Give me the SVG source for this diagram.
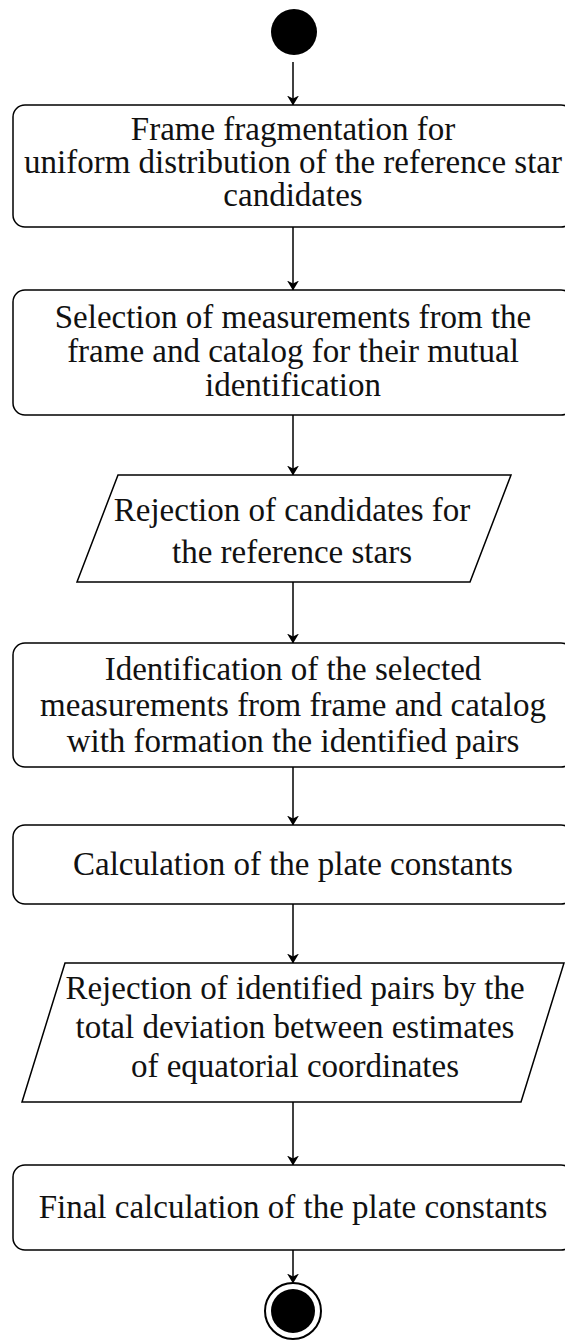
<svg xmlns="http://www.w3.org/2000/svg" width="565" height="1342" viewBox="0 0 565 1342">
<style>
.box{fill:#fff;stroke:#000;stroke-width:1.5}
.t{font-family:"Liberation Serif","Times New Roman",serif;font-size:33px;fill:#111;text-anchor:middle}
.c{stroke:#000;stroke-width:1.5;fill:none;marker-end:url(#ah)}
</style>
<defs>
<marker id="ah" viewBox="0 0 10 12" refX="9.5" refY="6" markerWidth="10" markerHeight="12" markerUnits="userSpaceOnUse" orient="auto">
<path d="M0,0 L10,6 L0,12 L3,6 z" fill="#000"/>
</marker>
</defs>
<rect width="565" height="1342" fill="#fff"/>
<g id="connectors">
<line class="c" x1="293" y1="62" x2="293" y2="105"/>
<line class="c" x1="293" y1="227" x2="293" y2="290"/>
<line class="c" x1="293" y1="415" x2="293" y2="475"/>
<line class="c" x1="293" y1="582" x2="293" y2="643"/>
<line class="c" x1="293" y1="767" x2="293" y2="825"/>
<line class="c" x1="293" y1="904" x2="293" y2="963"/>
<line class="c" x1="293" y1="1102" x2="293" y2="1165"/>
<line class="c" x1="293" y1="1250" x2="293" y2="1283"/>
</g>
<g id="start"><circle cx="294" cy="32" r="23" fill="#000"/></g>
<g id="n1">
<rect class="box" x="13" y="105" width="560" height="122" rx="12"/>
<text class="t" x="293" y="140">Frame fragmentation for</text>
<text class="t" x="293" y="173">uniform distribution of the reference star</text>
<text class="t" x="293" y="206">candidates</text>
</g>
<g id="n2">
<rect class="box" x="13" y="290" width="560" height="125" rx="12"/>
<text class="t" x="293" y="328">Selection of measurements from the</text>
<text class="t" x="293" y="362">frame and catalog for their mutual</text>
<text class="t" x="293" y="396">identification</text>
</g>
<g id="n3">
<polygon class="box" points="118,475 511,475 470,582 77,582"/>
<text class="t" x="292" y="521">Rejection of candidates for</text>
<text class="t" x="292" y="563">the reference stars</text>
</g>
<g id="n4">
<rect class="box" x="13" y="643" width="560" height="124" rx="12"/>
<text class="t" x="293" y="680">Identification of the selected</text>
<text class="t" x="293" y="716">measurements from frame and catalog</text>
<text class="t" x="293" y="752">with formation the identified pairs</text>
</g>
<g id="n5">
<rect class="box" x="13" y="825" width="560" height="79" rx="12"/>
<text class="t" x="293" y="875">Calculation of the plate constants</text>
</g>
<g id="n6">
<polygon class="box" points="65,963 564,963 521,1102 22,1102"/>
<text class="t" x="295" y="999">Rejection of identified pairs by the</text>
<text class="t" x="295" y="1038">total deviation between estimates</text>
<text class="t" x="295" y="1077">of equatorial coordinates</text>
</g>
<g id="n7">
<rect class="box" x="13" y="1165" width="560" height="85" rx="12"/>
<text class="t" x="293" y="1218">Final calculation of the plate constants</text>
</g>
<g id="end">
<circle cx="293" cy="1311" r="28" fill="#fff" stroke="#000" stroke-width="2"/>
<circle cx="293" cy="1311" r="22" fill="#000"/>
</g>
</svg>
